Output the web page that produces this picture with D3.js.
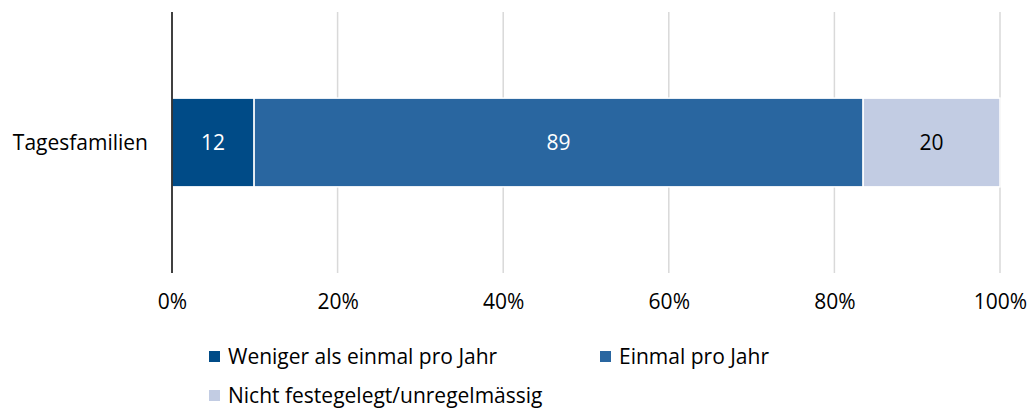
<!DOCTYPE html>
<html><head><meta charset="utf-8">
<script src="https://cdn.jsdelivr.net/npm/d3@7"></script>
<style>body{margin:0;background:#fff}svg{display:block}text{font-family:"Open Sans",sans-serif;fill:#000}</style>
</head><body><svg id="c" width="1032" height="409"></svg>
<script>
const categories = ["Tagesfamilien"];
const seriesNames = ["Weniger als einmal pro Jahr", "Einmal pro Jahr", "Nicht festegelegt/unregelmässig"];
const seriesValues = [[12], [89], [20]];
const colors = ["#004b87", "#2966a0", "#c2cce3"];
const labelColors = ["#fff", "#fff", "#000"];
const tickValues = [0, 0.2, 0.4, 0.6, 0.8, 1];

const FS = "21px";
const svg = d3.select("#c");
const x = d3.scaleLinear().domain([0, 1]).range([172, 1000]);
const y = d3.scaleBand().domain(categories).range([12, 273]).paddingInner(0.66).paddingOuter(0.33);

// gridlines
svg.append("g").selectAll("line").data(tickValues.slice(1)).join("line")
  .attr("x1", d => x(d)).attr("x2", d => x(d)).attr("y1", 12).attr("y2", 273)
  .attr("stroke", "#d9d9d9").attr("stroke-width", 1.5);

// stacked bars
categories.forEach((cat, ci) => {
  const total = d3.sum(seriesValues, s => s[ci]);
  let acc = 0;
  seriesValues.forEach((s, si) => {
    const v = s[ci] / total;
    const x0 = x(acc), x1 = x(acc + v);
    svg.append("rect").attr("x", x0).attr("y", y(cat)).attr("width", x1 - x0).attr("height", y.bandwidth())
      .attr("fill", colors[si]).attr("stroke", "#fff").attr("stroke-width", 1.5);
    svg.append("text").attr("x", (x0 + x1) / 2).attr("y", y(cat) + y.bandwidth() / 2)
      .attr("dy", "0.35em").attr("text-anchor", "middle").style("font-size", FS)
      .style("fill", labelColors[si]).text(s[ci]);
    acc += v;
  });
});

// y axis line
svg.append("line").attr("x1", 172).attr("x2", 172).attr("y1", 12).attr("y2", 273)
  .attr("stroke", "#000").attr("stroke-width", 1.5);

// category labels
svg.append("g").selectAll("text").data(categories).join("text")
  .attr("x", 148).attr("y", d => y(d) + y.bandwidth() / 2).attr("dy", "0.35em")
  .attr("text-anchor", "end").style("font-size", FS).text(d => d);

// x axis tick labels
const xAxis = d3.axisBottom(x).tickValues(tickValues).tickFormat(d3.format(".0%")).tickSize(0).tickPadding(0);
const gx = svg.append("g").attr("transform", "translate(0,309)").call(xAxis);
gx.select(".domain").remove();
gx.selectAll("text").style("font-size", FS).style("font-family", '"Open Sans",sans-serif').attr("fill", "#000").attr("y", 0).attr("dy", "0");

// legend
const legendPos = [[209, 357], [600, 357], [209, 396]];
seriesNames.forEach((n, i) => {
  const [lx, ly] = legendPos[i];
  svg.append("rect").attr("x", lx).attr("y", ly - 6).attr("width", 11).attr("height", 11).attr("fill", colors[i]);
  svg.append("text").attr("x", lx + 19).attr("y", ly).attr("dy", "0.35em").style("font-size", FS).text(n);
});
</script></body></html>
